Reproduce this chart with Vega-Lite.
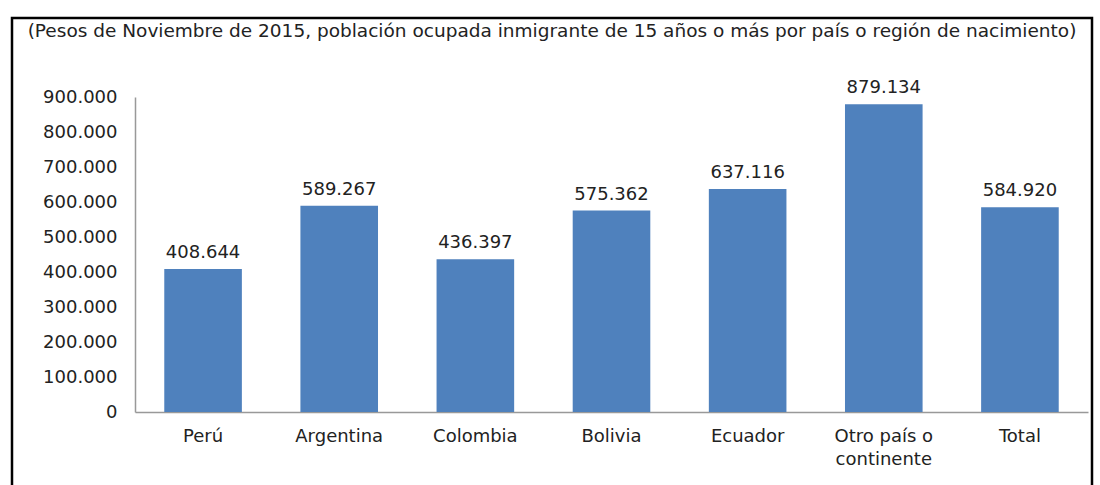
{
  "$schema": "https://vega.github.io/schema/vega-lite/v6.json",
  "width": 1080,
  "height": 470,
  "autosize": {"type": "none"},
  "padding": {"left": 12, "top": 18, "right": 8, "bottom": 0},
  "background": "white",
  "config": {
    "view": {"stroke": "black", "strokeWidth": 2.5},
    "locale": {"number": {"decimal": ",", "thousands": ".", "grouping": [3], "currency": ["$", ""]}},
    "font": "DejaVu Sans"
  },
  "title": {
    "text": "(Pesos de Noviembre de 2015, población ocupada inmigrante de 15 años o más por país o región de nacimiento)",
    "font": "DejaVu Sans",
    "fontSize": 18.5,
    "fontWeight": "normal",
    "color": "#222222",
    "anchor": "middle",
    "frame": "group",
    "baseline": "middle",
    "offset": -31
  },
  "data": {
    "values": [
      {"pais": "Perú", "valor": 408644},
      {"pais": "Argentina", "valor": 589267},
      {"pais": "Colombia", "valor": 436397},
      {"pais": "Bolivia", "valor": 575362},
      {"pais": "Ecuador", "valor": 637116},
      {"pais": "Otro país o continente", "valor": 879134},
      {"pais": "Total", "valor": 584920}
    ]
  },
  "encoding": {
    "x": {
      "field": "pais",
      "type": "nominal",
      "sort": null,
      "scale": {"range": [123, 1076], "paddingInner": 0.43, "paddingOuter": 0.215},
      "axis": {
        "title": null,
        "orient": "bottom",
        "offset": -76,
        "labelAngle": 0,
        "ticks": false,
        "domainColor": "#999999",
        "domainWidth": 1.5,
        "labelFontSize": 18,
        "labelColor": "#222222",
        "labelPadding": 15,
        "labelLineHeight": 23,
        "labelExpr": "datum.value == 'Otro país o continente' ? ['Otro país o', 'continente'] : datum.value"
      }
    },
    "y": {
      "field": "valor",
      "type": "quantitative",
      "scale": {"domain": [0, 900000], "range": [394, 79], "nice": false},
      "axis": {
        "title": null,
        "orient": "left",
        "offset": -123,
        "values": [0, 100000, 200000, 300000, 400000, 500000, 600000, 700000, 800000, 900000],
        "format": ",d",
        "grid": false,
        "ticks": false,
        "domainColor": "#999999",
        "domainWidth": 1.5,
        "labelFontSize": 18,
        "labelColor": "#222222",
        "labelPadding": 18
      }
    }
  },
  "layer": [
    {"mark": {"type": "bar", "color": "#4F81BD"}},
    {
      "mark": {"type": "text", "baseline": "alphabetic", "dy": -11, "fontSize": 18, "color": "#222222"},
      "encoding": {"text": {"field": "valor", "type": "quantitative", "format": ",d"}}
    }
  ]
}
